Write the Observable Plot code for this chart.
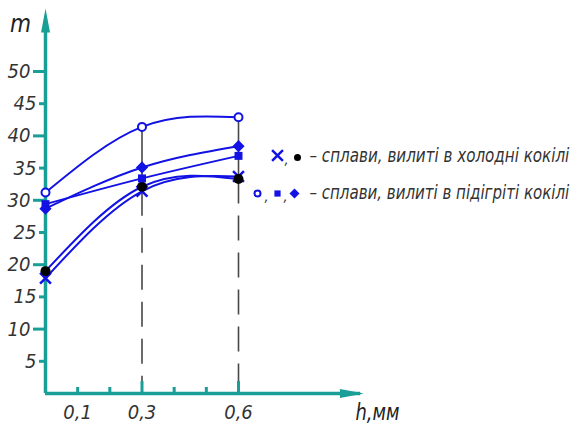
<!DOCTYPE html>
<html><head><meta charset="utf-8">
<script src="https://cdn.jsdelivr.net/npm/d3@7"></script>
<script src="https://cdn.jsdelivr.net/npm/@observablehq/plot@0.6"></script>
<style>
body{margin:0;background:#fff}
#chart svg{overflow:visible}
</style>
</head><body><div id="chart"></div>
<script>
// ---- data ----
const hValues = [0, 0.3, 0.6];
const coldCross = [17.9, 31.4, 33.7];
const coldDot = [19.0, 32.1, 33.3];
const hotCircle = [31.2, 41.4, 42.9];
const hotSquare = [29.4, 33.4, 36.9];
const hotDiamond = [28.7, 35.1, 38.4];
const yMajorTicks = [10, 20, 30, 40, 50];
const yMinorTicks = [5, 15, 25, 35, 45];
const xMinorTicks = [0.1, 0.2, 0.4, 0.5];
const xMajorTicks = [0.3, 0.6];
const xTickValues = [0.1, 0.3, 0.6];
const xTickLabels = ["0,1", "0,3", "0,6"];
const xArrowEnd = 0.99;
const yArrowEnd = 59.8;
const yLabel = "m";
const xLabel = "h,мм";
const legendCold = "– сплави, вилиті в холодні кокілі";
const legendHot = "– сплави, вилиті в підігріті кокілі";

// ---- styles ----
const teal = "#1a9e98";
const blue = "#1212e4";
const textColor = "#333";
const font = "'DejaVu Sans Condensed', 'DejaVu Sans', sans-serif";

const series = [
  {key: "cross", vals: coldCross},
  {key: "dot", vals: coldDot},
  {key: "circle", vals: hotCircle},
  {key: "square", vals: hotSquare},
  {key: "diamond", vals: hotDiamond}
];
const rows = series.flatMap(s => s.vals.map((v, i) => ({key: s.key, h: hValues[i], m: v})));
const pick = k => rows.filter(r => r.key === k);

const guides = [1, 2].map(i => {
  const vs = series.map(s => s.vals[i]);
  return {h: hValues[i], lo: d3.min(vs), hi: d3.max(vs)};
});

const labelMap = new Map(xTickValues.map((v, i) => [v, xTickLabels[i]]));

const arrowHead = {draw(ctx) { ctx.moveTo(0, 0); ctx.lineTo(4.5, 24); ctx.lineTo(-4.5, 24); ctx.closePath(); }};

const txt = {fontFamily: font, fontStyle: "italic", fill: textColor};

const chart = Plot.plot({
  width: 577,
  height: 424,
  marginLeft: 45,
  marginRight: 339,
  marginTop: 71,
  marginBottom: 31,
  style: {fontFamily: font, background: "#fff"},
  x: {domain: [0, 0.6], axis: null},
  y: {domain: [0, 50], axis: null},
  marks: [
    // guide lines
    Plot.ruleX(guides, {x: "h", y1: "lo", y2: 0, stroke: "#484848", strokeWidth: 1.6, strokeDasharray: "25,12"}),
    Plot.ruleX(guides, {x: "h", y1: "lo", y2: "hi", stroke: "#484848", strokeWidth: 1.6}),
    // axes lines + arrows
    Plot.ruleX([0], {y1: 0, y2: yArrowEnd - 2, stroke: teal, strokeWidth: 3.5}),
    Plot.ruleY([0], {x1: 0, x2: xArrowEnd - 0.01, stroke: teal, strokeWidth: 3.5}),
    Plot.dot([0], {x: 0, y: yArrowEnd, symbol: arrowHead, fill: teal, stroke: "none"}),
    Plot.dot([0], {x: xArrowEnd, y: 0, symbol: arrowHead, fill: teal, stroke: "none", rotate: 90}),
    // y axis ticks & labels
    Plot.axisY(yMajorTicks, {anchor: "left", label: null, tickSize: 12, tickPadding: 3, stroke: teal, strokeWidth: 3, fontSize: 20, ...txt}),
    Plot.axisY(yMinorTicks, {anchor: "left", label: null, tickSize: 6, tickPadding: 3, stroke: teal, strokeWidth: 3, fontSize: 20, ...txt}),
    // x axis ticks & labels
    Plot.tickX(xMinorTicks, {x: d => d, insetTop: 316, stroke: teal, strokeWidth: 3}),
    Plot.tickX(xMajorTicks, {x: d => d, insetTop: 310, stroke: teal, strokeWidth: 3}),
    Plot.axisX(xTickValues, {anchor: "bottom", label: null, tickSize: 0, tickPadding: 11, tickFormat: d => labelMap.get(d), fontSize: 20, ...txt}),
    // axis titles
    Plot.text([yLabel], {frameAnchor: "top-left", dx: -25, dy: -47, textAnchor: "middle", lineAnchor: "middle", fontSize: 24, ...txt, fill: "#222"}),
    Plot.text([xLabel], {frameAnchor: "bottom-right", dx: 117, dy: 19, textAnchor: "start", lineAnchor: "middle", fontSize: 23, ...txt, fill: "#222", className: "xtitle"}),
    // curves
    ...series.map(s => Plot.line(pick(s.key), {x: "h", y: "m", curve: "natural", stroke: blue, strokeWidth: 2})),
    // markers
    Plot.dot(pick("cross"), {x: "h", y: "m", symbol: "times", r: 5, stroke: blue, strokeWidth: 2.5}),
    Plot.dot(pick("dot"), {x: "h", y: "m", r: 5, fill: "#000"}),
    Plot.dot(pick("circle"), {x: "h", y: "m", r: 4, fill: "#fff", stroke: blue, strokeWidth: 2}),
    Plot.dot(pick("square"), {x: "h", y: "m", symbol: "square", r: 4.5, fill: blue}),
    Plot.dot(pick("diamond"), {x: "h", y: "m", symbol: "diamond2", r: 5.5, fill: blue}),
    // legend
    Plot.dot([0], {frameAnchor: "top-right", dx: 39, dy: 84, symbol: "times", r: 5, stroke: blue, strokeWidth: 2.5}),
    Plot.text([","], {frameAnchor: "top-right", dx: 48, dy: 88, textAnchor: "middle", lineAnchor: "middle", fontSize: 14, ...txt}),
    Plot.dot([0], {frameAnchor: "top-right", dx: 59, dy: 86, r: 3.5, fill: "#000"}),
    Plot.text([legendCold], {frameAnchor: "top-right", dx: 71, dy: 84, textAnchor: "start", lineAnchor: "middle", fontSize: 20, ...txt, className: "legtext"}),
    Plot.dot([0], {frameAnchor: "top-right", dx: 19, dy: 122, r: 3, fill: "#fff", stroke: blue, strokeWidth: 2}),
    Plot.text([","], {frameAnchor: "top-right", dx: 28, dy: 125, textAnchor: "middle", lineAnchor: "middle", fontSize: 14, ...txt}),
    Plot.dot([0], {frameAnchor: "top-right", dx: 39, dy: 122, symbol: "square", r: 3.5, fill: blue}),
    Plot.text([","], {frameAnchor: "top-right", dx: 47, dy: 125, textAnchor: "middle", lineAnchor: "middle", fontSize: 14, ...txt}),
    Plot.dot([0], {frameAnchor: "top-right", dx: 56, dy: 122, symbol: "diamond2", r: 4.5, fill: blue}),
    Plot.text([legendHot], {frameAnchor: "top-right", dx: 71, dy: 121, textAnchor: "start", lineAnchor: "middle", fontSize: 20, ...txt, className: "legtext"})
  ]
});
document.getElementById("chart").appendChild(chart);
// narrow the drafting-style text horizontally to the reference's widths
function squeeze(selector, targetWidth) {
  chart.querySelectorAll(selector).forEach(t => {
    const w = t.getComputedTextLength();
    if (w > targetWidth) {
      const tr = t.getAttribute("transform") || "";
      t.setAttribute("transform", `${tr} scale(${(targetWidth / w).toFixed(4)},1)`);
    }
  });
}
squeeze(".legtext text", 260);
squeeze(".xtitle text", 44);
</script>
</body></html>
